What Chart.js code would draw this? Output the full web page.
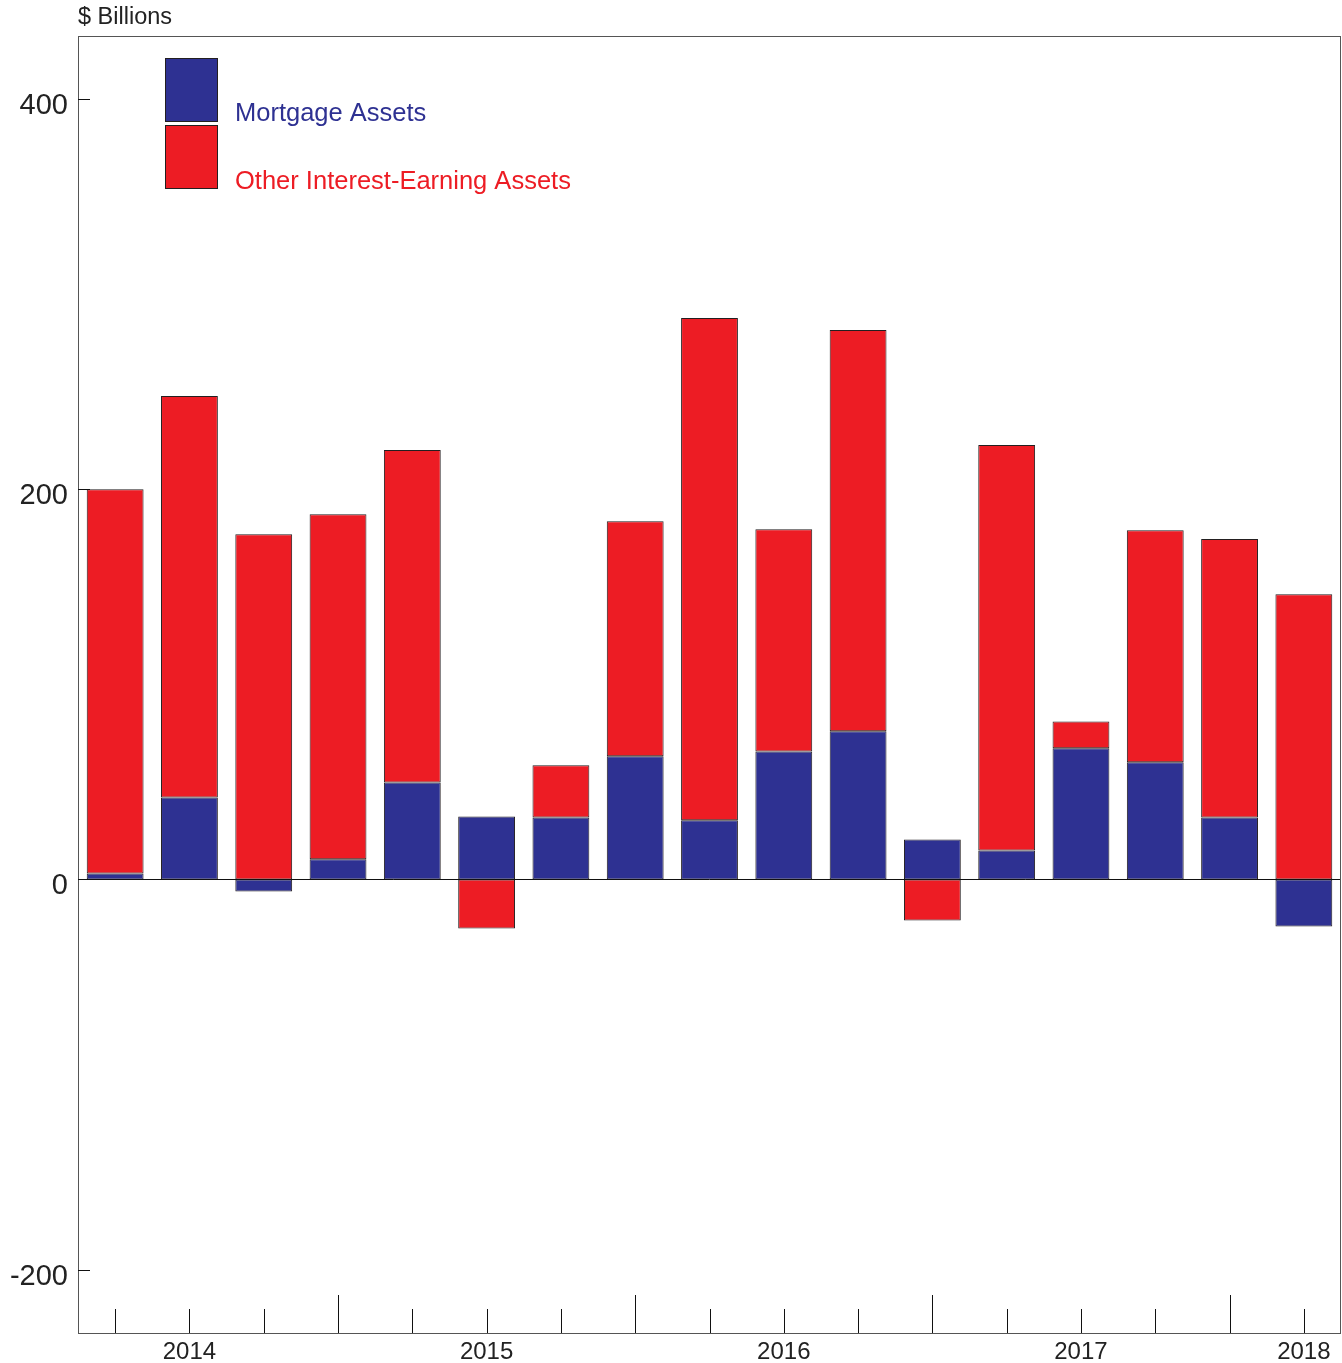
<!DOCTYPE html>
<html>
<head>
<meta charset="utf-8">
<script src="https://cdn.jsdelivr.net/npm/chart.js@4.4.1/dist/chart.umd.min.js"></script>
<style>
  body { margin: 0; background: #fff; }
  #wrap { position: relative; width: 1342px; height: 1363px; }
</style>
</head>
<body>
<div id="wrap"><canvas id="chart" width="1342" height="1363"></canvas></div>
<script>
// quarters 2014 Q1 .. 2018 Q1
const quarters = ['2014 Q1', '2014 Q2', '2014 Q3', '2014 Q4',
                  '2015 Q1', '2015 Q2', '2015 Q3', '2015 Q4',
                  '2016 Q1', '2016 Q2', '2016 Q3', '2016 Q4',
                  '2017 Q1', '2017 Q2', '2017 Q3', '2017 Q4',
                  '2018 Q1'];
// year labels shown under these bars
const yearLabels = {1: '2014', 5: '2015', 9: '2016', 13: '2017', 16: '2018'};

const mortgage = [3, 42, -6.2, 10.3, 49.7, 32.3, 31.8, 63.1, 30.3, 65.6, 75.9, 20.5, 14.9, 67.2, 60, 31.8, -24.1];
const otherAssets = [197, 205.7, 176.9, 176.9, 170.3, -25.1, 26.7, 120.5, 257.4, 113.9, 205.6, -21, 207.7, 13.8, 119, 142.6, 146.2];

const yTicks = [-200, 0, 200, 400];

const BLUE = '#2E3192';
const RED = '#ED1C24';
const FONT = '"Liberation Sans", Arial, Helvetica, sans-serif';

const decor = {
    id: 'decor',
    afterDraw(chart) {
        const ctx = chart.ctx;
        const a = chart.chartArea;
        const x = chart.scales.x, y = chart.scales.y;
        ctx.save();

        // zero line
        ctx.strokeStyle = '#111';
        ctx.lineWidth = 1;
        const y0 = Math.round(y.getPixelForValue(0)) + 0.5;
        ctx.beginPath();
        ctx.moveTo(a.left, y0);
        ctx.lineTo(a.right, y0);
        ctx.stroke();

        // frame
        ctx.strokeStyle = '#555';
        ctx.strokeRect(a.left + 0.5, a.top + 0.5, a.right - a.left - 1, a.bottom - a.top);

        // y tick marks inside the plot
        ctx.strokeStyle = '#111';
        yTicks.forEach(v => {
            const py = Math.round(y.getPixelForValue(v)) + 0.5;
            ctx.beginPath();
            ctx.moveTo(a.left, py);
            ctx.lineTo(a.left + 12, py);
            ctx.stroke();
        });

        // x tick marks going up from the bottom
        quarters.forEach((q, i) => {
            const px = Math.round(x.getPixelForValue(i)) + 0.5;
            const len = (i % 4 === 3) ? 38 : 24;
            ctx.beginPath();
            ctx.moveTo(px, a.bottom);
            ctx.lineTo(px, a.bottom - len);
            ctx.stroke();
        });

        // legend
        ctx.lineWidth = 1;
        ctx.strokeStyle = '#231f20';
        ctx.fillStyle = BLUE;
        ctx.fillRect(165, 58, 52, 63);
        ctx.strokeRect(165.5, 58.5, 52, 63);
        ctx.fillStyle = RED;
        ctx.fillRect(165, 125, 52, 63);
        ctx.strokeRect(165.5, 125.5, 52, 63);

        ctx.font = '25.5px ' + FONT;
        ctx.textBaseline = 'alphabetic';
        ctx.textAlign = 'left';
        ctx.fillStyle = BLUE;
        ctx.fillText('Mortgage Assets', 235, 121);
        ctx.fillStyle = RED;
        ctx.fillText('Other Interest-Earning Assets', 235, 189);

        // units label
        ctx.fillStyle = '#222';
        ctx.font = '23.5px ' + FONT;
        ctx.fillText('$ Billions', 78, 24);
        ctx.restore();
    }
};

new Chart(document.getElementById('chart'), {
    type: 'bar',
    data: {
        labels: quarters,
        datasets: [{
            label: 'Mortgage Assets',
            data: mortgage,
            backgroundColor: BLUE,
            borderColor: '#231f20',
            borderWidth: 1,
            borderSkipped: false
        }, {
            label: 'Other Interest-Earning Assets',
            data: otherAssets,
            backgroundColor: RED,
            borderColor: '#231f20',
            borderWidth: 1,
            borderSkipped: false
        }]
    },
    options: {
        responsive: false,
        animation: false,
        datasets: {
            bar: { barPercentage: 0.765, categoryPercentage: 1 }
        },
        layout: { padding: { top: 36, right: 1, left: 0, bottom: 0 } },
        plugins: {
            legend: { display: false },
            tooltip: { enabled: false }
        },
        scales: {
            x: {
                stacked: true,
                grid: { display: false, drawTicks: false },
                border: { display: false },
                afterFit: s => { s.height = 30; },
                ticks: {
                    autoSkip: false,
                    maxRotation: 0,
                    padding: 5,
                    color: '#222',
                    font: { family: FONT, size: 24 },
                    callback: (v, i) => yearLabels[i] || ''
                }
            },
            y: {
                stacked: true,
                min: -232.4,
                max: 432.2,
                grid: { display: false, drawTicks: false },
                border: { display: false },
                afterFit: s => { s.width = 78; },
                afterBuildTicks: s => { s.ticks = yTicks.map(v => ({ value: v })); },
                ticks: {
                    padding: 10,
                    labelOffset: 7,
                    color: '#222',
                    font: { family: FONT, size: 29 }
                }
            }
        }
    },
    plugins: [decor]
});
</script>
</body>
</html>
